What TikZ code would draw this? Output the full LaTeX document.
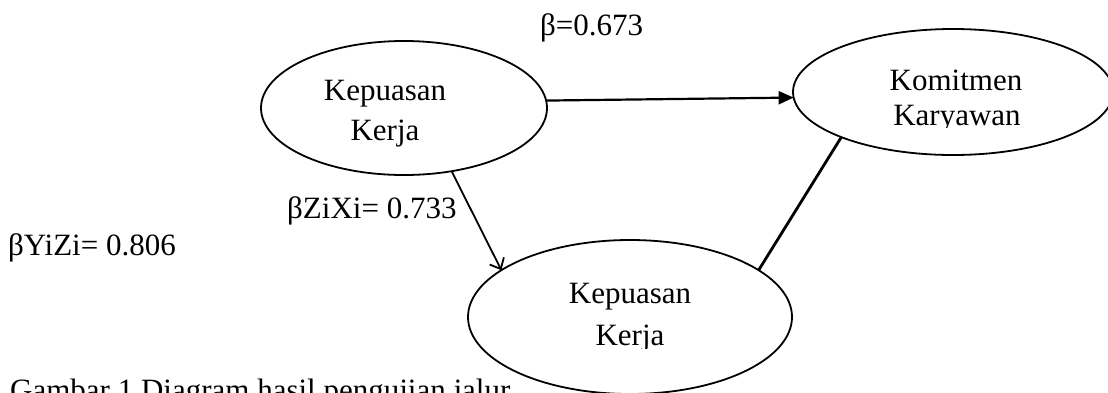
\documentclass[tikz,border=0pt]{standalone}
\usepackage{fontspec}
\setmainfont{Liberation Serif}
\usetikzlibrary{shapes.geometric,arrows.meta}
\begin{document}
\begin{tikzpicture}[x=1pt,y=-1pt,
  ell/.style={draw,ellipse,line width=1.8pt,inner sep=0pt,outer sep=0pt},
  txt/.style={font=\fontsize{31}{37}\selectfont,inner sep=0pt,anchor=base},
  lbl/.style={font=\fontsize{31}{37}\selectfont,inner sep=0pt,anchor=base west}]
\clip (0,0) rectangle (1108,392);
\fill[white] (0,0) rectangle (1108,392);
% ellipses
\node[ell,minimum width=286pt,minimum height=134pt] (e1) at (404,108) {};
\node[ell,minimum width=320pt,minimum height=126pt] (e2) at (953,92) {};
\node[ell,minimum width=324pt,minimum height=154pt] (e3) at (630,317) {};
% texts inside ellipses
\node[txt] (t1a) at (385,100) {Kepuasan};
\begin{scope}
  \clip (300,105) rectangle (470,146);
  \node[txt] (t1b) at (385,140) {Kerja};
\end{scope}
\node[txt] (t2a) at (956,90) {Komitmen};
\begin{scope}
  \clip (860,95) rectangle (1060,127);
  \node[txt] (t2b) at (957,125) {Karyawan};
\end{scope}
\node[txt] (t3a) at (630,303) {Kepuasan};
\begin{scope}
  \clip (540,308) rectangle (720,348);
  \node[txt] (t3b) at (630,345) {Kerja};
\end{scope}
% connectors
\draw[line width=2.2pt,-{Triangle[length=15pt,width=13pt]}] (e1.3.2) -- (e2.182.9);
\draw[line width=1.8pt,-{Straight Barb[length=9pt,width=16pt]}] (e1.-53.9) -- (e3.160.9);
\draw[line width=2.8pt] (e3.20.9) -- (e2.202.5);
% labels
\node[lbl] (l1) at (540,35) {β=0.673};
\node[lbl] (l2) at (287,218) {βZiXi= 0.733};
\node[lbl] (l3) at (8,255) {βYiZi= 0.806};
\node[lbl] (cap) at (10,400) {Gambar 1 Diagram hasil pengujian jalur};
\end{tikzpicture}
\end{document}
